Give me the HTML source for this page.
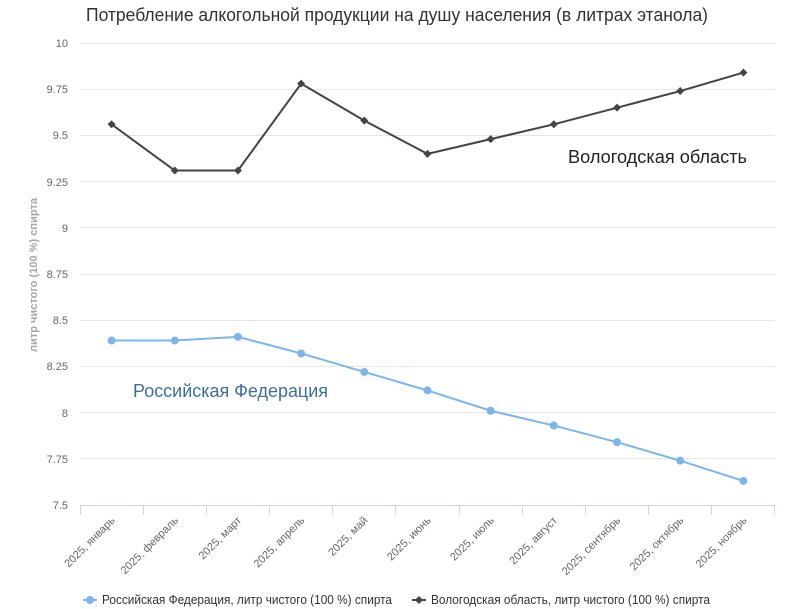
<!DOCTYPE html>
<html><head><meta charset="utf-8"><style>
html,body{margin:0;padding:0;background:#fff;}
svg{display:block;}
text{font-family:"Liberation Sans","DejaVu Sans",sans-serif;}
</style></head><body>
<svg width="790" height="609" viewBox="0 0 790 609" xmlns="http://www.w3.org/2000/svg">
<rect width="790" height="609" fill="#fff"/>
<text x="86" y="21" font-size="18" fill="#333" textLength="622" lengthAdjust="spacingAndGlyphs">Потребление алкогольной продукции на душу населения (в литрах этанола)</text>
<g stroke="#e6e6e6" stroke-width="1">
<line x1="80" x2="775" y1="43.5" y2="43.5"/>
<line x1="80" x2="775" y1="89.5" y2="89.5"/>
<line x1="80" x2="775" y1="135.5" y2="135.5"/>
<line x1="80" x2="775" y1="181.5" y2="181.5"/>
<line x1="80" x2="775" y1="227.5" y2="227.5"/>
<line x1="80" x2="775" y1="274.5" y2="274.5"/>
<line x1="80" x2="775" y1="320.5" y2="320.5"/>
<line x1="80" x2="775" y1="366.5" y2="366.5"/>
<line x1="80" x2="775" y1="412.5" y2="412.5"/>
<line x1="80" x2="775" y1="458.5" y2="458.5"/>
</g>
<line x1="80" x2="775" y1="505.5" y2="505.5" stroke="#ccd6eb" stroke-width="1"/>
<g stroke="#ccd6eb" stroke-width="1">
<line x1="80.5" x2="80.5" y1="505" y2="515"/>
<line x1="143.5" x2="143.5" y1="505" y2="515"/>
<line x1="206.5" x2="206.5" y1="505" y2="515"/>
<line x1="269.5" x2="269.5" y1="505" y2="515"/>
<line x1="332.5" x2="332.5" y1="505" y2="515"/>
<line x1="395.5" x2="395.5" y1="505" y2="515"/>
<line x1="459.5" x2="459.5" y1="505" y2="515"/>
<line x1="522.5" x2="522.5" y1="505" y2="515"/>
<line x1="585.5" x2="585.5" y1="505" y2="515"/>
<line x1="648.5" x2="648.5" y1="505" y2="515"/>
<line x1="711.5" x2="711.5" y1="505" y2="515"/>
<line x1="774.5" x2="774.5" y1="505" y2="515"/>
</g>
<g font-size="11" fill="#666" text-anchor="end">
<text x="68" y="47">10</text>
<text x="68" y="93">9.75</text>
<text x="68" y="139">9.5</text>
<text x="68" y="186">9.25</text>
<text x="68" y="232">9</text>
<text x="68" y="278">8.75</text>
<text x="68" y="324">8.5</text>
<text x="68" y="370">8.25</text>
<text x="68" y="417">8</text>
<text x="68" y="463">7.75</text>
<text x="68" y="509">7.5</text>
</g>
<text transform="translate(37,275) rotate(-90)" text-anchor="middle" font-size="11" font-weight="bold" fill="#a6a6a6" textLength="154" lengthAdjust="spacingAndGlyphs">литр чистого (100 %) спирта</text>
<g font-size="11" fill="#666" text-anchor="end">
<text transform="translate(115.6,521) rotate(-45)">2025, январь</text>
<text transform="translate(178.8,521) rotate(-45)">2025, февраль</text>
<text transform="translate(242,521) rotate(-45)">2025, март</text>
<text transform="translate(305.1,521) rotate(-45)">2025, апрель</text>
<text transform="translate(368.3,521) rotate(-45)">2025, май</text>
<text transform="translate(431.5,521) rotate(-45)">2025, июнь</text>
<text transform="translate(494.7,521) rotate(-45)">2025, июль</text>
<text transform="translate(557.9,521) rotate(-45)">2025, август</text>
<text transform="translate(621,521) rotate(-45)">2025, сентябрь</text>
<text transform="translate(684.2,521) rotate(-45)">2025, октябрь</text>
<text transform="translate(747.4,521) rotate(-45)">2025, ноябрь</text>
</g>
<polyline fill="none" stroke="#7cb5ec" stroke-width="2" stroke-linejoin="round" points="111.59,340.53 174.77,340.53 237.95,336.83 301.13,353.46 364.31,371.94 427.49,390.42 490.67,410.75 553.85,425.54 617.03,442.17 680.21,460.65 743.39,480.98"/>
<g fill="#7cb5ec">
<circle cx="111.59" cy="340.53" r="4"/>
<circle cx="174.77" cy="340.53" r="4"/>
<circle cx="237.95" cy="336.83" r="4"/>
<circle cx="301.13" cy="353.46" r="4"/>
<circle cx="364.31" cy="371.94" r="4"/>
<circle cx="427.49" cy="390.42" r="4"/>
<circle cx="490.67" cy="410.75" r="4"/>
<circle cx="553.85" cy="425.54" r="4"/>
<circle cx="617.03" cy="442.17" r="4"/>
<circle cx="680.21" cy="460.65" r="4"/>
<circle cx="743.39" cy="480.98" r="4"/>
</g>
<polyline fill="none" stroke="#434348" stroke-width="2" stroke-linejoin="round" points="111.59,124.31 174.77,170.51 237.95,170.51 301.13,83.66 364.31,120.62 427.49,153.88 490.67,139.10 553.85,124.31 617.03,107.68 680.21,91.05 743.39,72.57"/>
<g fill="#434348">
<path d="M111.59 120.31 L115.59 124.31 L111.59 128.31 L107.59 124.31Z"/>
<path d="M174.77 166.51 L178.77 170.51 L174.77 174.51 L170.77 170.51Z"/>
<path d="M237.95 166.51 L241.95 170.51 L237.95 174.51 L233.95 170.51Z"/>
<path d="M301.13 79.66 L305.13 83.66 L301.13 87.66 L297.13 83.66Z"/>
<path d="M364.31 116.62 L368.31 120.62 L364.31 124.62 L360.31 120.62Z"/>
<path d="M427.49 149.88 L431.49 153.88 L427.49 157.88 L423.49 153.88Z"/>
<path d="M490.67 135.10 L494.67 139.10 L490.67 143.10 L486.67 139.10Z"/>
<path d="M553.85 120.31 L557.85 124.31 L553.85 128.31 L549.85 124.31Z"/>
<path d="M617.03 103.68 L621.03 107.68 L617.03 111.68 L613.03 107.68Z"/>
<path d="M680.21 87.05 L684.21 91.05 L680.21 95.05 L676.21 91.05Z"/>
<path d="M743.39 68.57 L747.39 72.57 L743.39 76.57 L739.39 72.57Z"/>
</g>
<text x="568" y="163" font-size="18" fill="#222" textLength="179" lengthAdjust="spacingAndGlyphs">Вологодская область</text>
<text x="133" y="397" font-size="18" fill="#3e6f9c" textLength="195" lengthAdjust="spacingAndGlyphs">Российская Федерация</text>
<line x1="83" x2="97" y1="600" y2="600" stroke="#7cb5ec" stroke-width="2"/>
<circle cx="90" cy="600" r="4" fill="#7cb5ec"/>
<text x="102" y="604" font-size="12.5" fill="#333" textLength="290" lengthAdjust="spacingAndGlyphs">Российская Федерация, литр чистого (100 %) спирта</text>
<line x1="412" x2="426" y1="600" y2="600" stroke="#434348" stroke-width="2"/>
<path d="M419 596 L423 600 L419 604 L415 600Z" fill="#434348"/>
<text x="431" y="604" font-size="12.5" fill="#333" textLength="279" lengthAdjust="spacingAndGlyphs">Вологодская область, литр чистого (100 %) спирта</text>
</svg>
</body></html>
